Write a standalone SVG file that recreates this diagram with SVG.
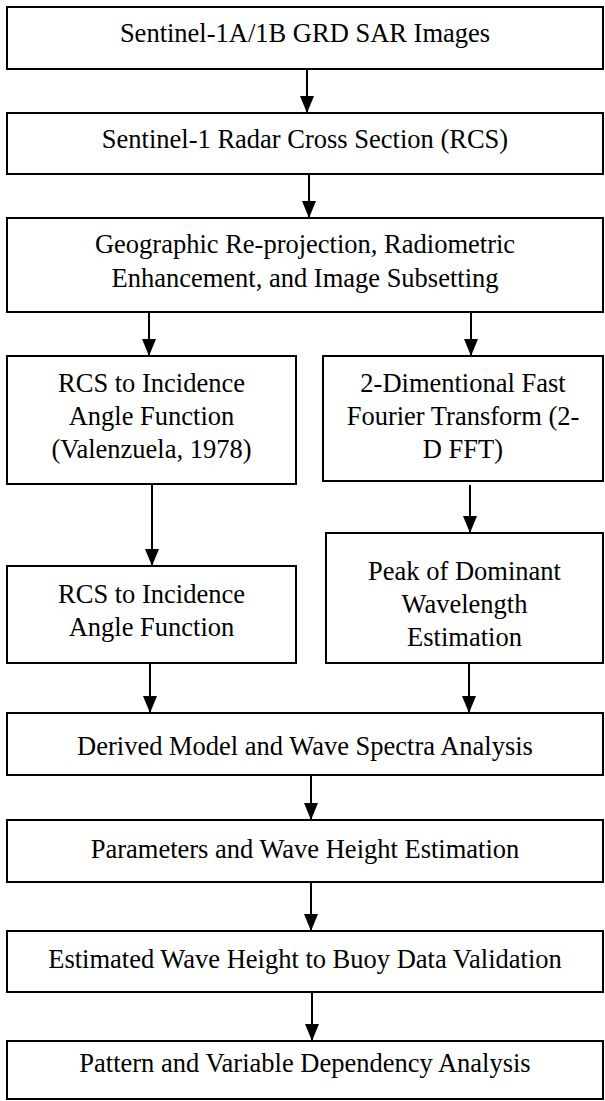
<svg xmlns="http://www.w3.org/2000/svg" width="605" height="1101" viewBox="0 0 605 1101">
<style>
.box{fill:#fff;stroke:#000;stroke-width:2}
.t{font-family:"Liberation Serif","DejaVu Serif",serif;font-size:26.5px;fill:#000;text-anchor:middle}
.c{stroke:#000;stroke-width:2;fill:none}
</style>
<defs>
<marker id="ah" markerUnits="userSpaceOnUse" markerWidth="17" markerHeight="14" refX="17" refY="7" orient="auto" viewBox="0 0 17 14">
<path d="M0,0 L17,7 L0,14 Z" fill="#000"/>
</marker>
</defs>
<rect width="605" height="1101" fill="#fff"/>
<g id="connectors">
<line class="c" x1="307" y1="69" x2="307" y2="113" marker-end="url(#ah)"/>
<line class="c" x1="309" y1="173" x2="309" y2="218" marker-end="url(#ah)"/>
<line class="c" x1="149" y1="312" x2="149" y2="356" marker-end="url(#ah)"/>
<line class="c" x1="471" y1="312" x2="471" y2="356" marker-end="url(#ah)"/>
<line class="c" x1="152" y1="480" x2="152" y2="566" marker-end="url(#ah)"/>
<line class="c" x1="470" y1="485" x2="470" y2="533" marker-end="url(#ah)"/>
<line class="c" x1="150" y1="663" x2="150" y2="713" marker-end="url(#ah)"/>
<line class="c" x1="469" y1="663" x2="469" y2="713" marker-end="url(#ah)"/>
<line class="c" x1="311" y1="775" x2="311" y2="820" marker-end="url(#ah)"/>
<line class="c" x1="311" y1="882" x2="311" y2="931" marker-end="url(#ah)"/>
<line class="c" x1="312" y1="992" x2="312" y2="1041" marker-end="url(#ah)"/>
</g>
<g id="n1"><rect class="box" x="7" y="7" width="596" height="62"/><text class="t" x="305" y="42">Sentinel-1A/1B GRD SAR Images</text></g>
<g id="n2"><rect class="box" x="7" y="113" width="596" height="61"/><text class="t" x="305" y="148">Sentinel-1 Radar Cross Section (RCS)</text></g>
<g id="n3"><rect class="box" x="7" y="218" width="596" height="94"/><text class="t" x="305" y="253">Geographic Re-projection, Radiometric</text><text class="t" x="305" y="287">Enhancement, and Image Subsetting</text></g>
<g id="n4"><rect class="box" x="7" y="356" width="289" height="128"/><text class="t" x="151.5" y="392">RCS to Incidence</text><text class="t" x="151.5" y="425">Angle Function</text><text class="t" x="151.5" y="458">(Valenzuela, 1978)</text></g>
<g id="n5"><rect class="box" x="323" y="356" width="280" height="125"/><text class="t" x="463" y="392">2-Dimentional Fast</text><text class="t" x="463" y="425">Fourier Transform (2-</text><text class="t" x="463" y="458">D FFT)</text></g>
<g id="n6"><rect class="box" x="7" y="566" width="289" height="97"/><text class="t" x="151.5" y="603">RCS to Incidence</text><text class="t" x="151.5" y="636">Angle Function</text></g>
<g id="n7"><rect class="box" x="326" y="533" width="277" height="130"/><text class="t" x="464.5" y="580">Peak of Dominant</text><text class="t" x="464.5" y="613">Wavelength</text><text class="t" x="464.5" y="646">Estimation</text></g>
<g id="n8"><rect class="box" x="7" y="713" width="596" height="62"/><text class="t" x="305" y="755">Derived Model and Wave Spectra Analysis</text></g>
<g id="n9"><rect class="box" x="7" y="820" width="596" height="62"/><text class="t" x="305" y="858">Parameters and Wave Height Estimation</text></g>
<g id="n10"><rect class="box" x="7" y="931" width="596" height="61"/><text class="t" x="305" y="968">Estimated Wave Height to Buoy Data Validation</text></g>
<g id="n11"><rect class="box" x="7" y="1041" width="596" height="58"/><text class="t" x="305" y="1072">Pattern and Variable Dependency Analysis</text></g>
</svg>
